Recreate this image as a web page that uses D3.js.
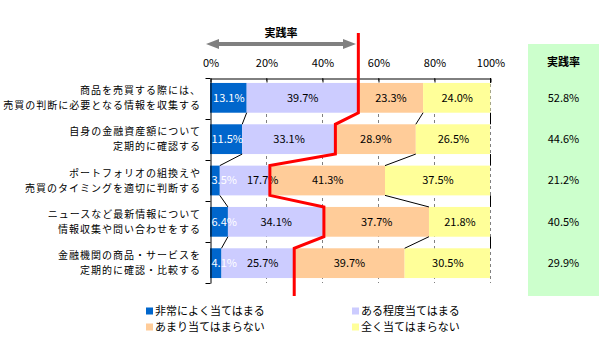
<!DOCTYPE html>
<html><head><meta charset="utf-8">
<script src="https://cdn.jsdelivr.net/npm/d3@7"></script>
<style>
html,body{margin:0;padding:0;background:#fff;}
svg{display:block;font-family:"Noto Sans CJK JP","Noto Sans",sans-serif;}
</style></head>
<body><svg id="c" width="600" height="340"></svg>
<script>
const categories = [
  ["商品を売買する際には、", "売買の判断に必要となる情報を収集する"],
  ["自身の金融資産額について", "定期的に確認する"],
  ["ポートフォリオの組換えや", "売買のタイミングを適切に判断する"],
  ["ニュースなど最新情報について", "情報収集や問い合わせをする"],
  ["金融機関の商品・サービスを", "定期的に確認・比較する"]
];
const seriesNames = ["非常によく当てはまる", "ある程度当てはまる", "あまり当てはまらない", "全く当てはまらない"];
const veryMuch   = [13.1, 11.5, 3.5, 6.4, 4.1];
const somewhat   = [39.7, 33.1, 17.7, 34.1, 25.7];
const notMuch    = [23.3, 28.9, 41.3, 37.7, 39.7];
const notAtAll   = [24.0, 26.5, 37.5, 21.8, 30.5];
const practiceRate = [52.8, 44.6, 21.2, 40.5, 29.9];
const xTicks = [0, 20, 40, 60, 80, 100];
const headerLabel = "実践率";

const colors = ["#0066CC", "#CCCCFF", "#FFCC99", "#FFFF99"];
const seriesVals = [veryMuch, somewhat, notMuch, notAtAll];
const rows = categories.map((c, i) => {
  const r = {i};
  seriesVals.forEach((s, k) => r["s" + k] = s[i]);
  return r;
});

const svg = d3.select("#c");
const x = d3.scaleLinear().domain([0, 100]).range([210.5, 490.5]);
const y = d3.scaleBand().domain(d3.range(categories.length)).range([78, 283]).paddingInner(0.28).paddingOuter(0.12);
const yL = d3.scaleLinear().domain([0, categories.length]).range([78, 283]);
const bw = y.bandwidth();
const FS = 11;

// green practice box
svg.append("rect").attr("x", 528).attr("y", 44).attr("width", 71).attr("height", 252).attr("fill", "#CCFFCC");
svg.append("text").attr("x", 563.5).attr("y", 62).attr("dy", "0.35em").attr("text-anchor", "middle")
  .attr("font-size", FS).attr("font-weight", "bold").text(headerLabel);
svg.selectAll(".pr").data(practiceRate).join("text")
  .attr("x", 563.5).attr("y", (d, i) => y(i) + bw / 2).attr("dy", "0.35em").attr("text-anchor", "middle")
  .attr("font-size", FS).attr("fill", "#000").text(d => d.toFixed(1) + "%");

// gridlines
svg.selectAll(".grid").data(xTicks.filter(t => t > 0)).join("line")
  .attr("x1", d => x(d)).attr("x2", d => x(d)).attr("y1", 78).attr("y2", 283)
  .attr("stroke", "#808080").attr("stroke-width", 1).attr("stroke-dasharray", "3,3");

// top axis
const ax = svg.append("g").attr("transform", "translate(0,78.5)")
  .call(d3.axisTop(x).tickValues(xTicks).tickFormat(d => d + "%").tickSizeInner(-4).tickSizeOuter(0).tickPadding(12));
ax.select(".domain").attr("stroke", "#000");
ax.selectAll(".tick line").attr("stroke", "#000");
ax.selectAll("text").attr("font-size", FS).attr("fill", "#000").attr("font-family", "'Noto Sans CJK JP','Noto Sans',sans-serif");

// right border solid segments (between bars)
const gaps = [[78, y(0)]];
for (let i = 0; i < categories.length - 1; i++) gaps.push([y(i) + bw, y(i + 1)]);
svg.selectAll(".rb").data(gaps).join("line")
  .attr("x1", x(100)).attr("x2", x(100)).attr("y1", d => d[0]).attr("y2", d => d[1])
  .attr("stroke", "#000").attr("stroke-width", 1);

// stacked bars
const stack = d3.stack().keys(seriesVals.map((s, k) => "s" + k));
const layers = stack(rows);
const g = svg.append("g");
layers.forEach((layer, k) => {
  g.selectAll(".b" + k).data(layer).join("rect")
    .attr("x", d => x(d[0]) - 0.5).attr("width", d => x(d[1]) - x(d[0]))
    .attr("y", (d, i) => y(i)).attr("height", bw).attr("fill", colors[k]);
});

// left axis
const al = svg.append("g").attr("transform", "translate(210.5,0)")
  .call(d3.axisLeft(yL).ticks(categories.length).tickFormat("").tickSizeInner(5).tickSizeOuter(0));
al.select(".domain").attr("stroke", "#000");
al.selectAll(".tick line").attr("stroke", "#000");

// series lines
for (let k = 0; k < 3; k++) {
  for (let i = 0; i < categories.length - 1; i++) {
    svg.append("line")
      .attr("x1", x(layers[k][i][1]) - 0.5).attr("y1", y(i) + bw)
      .attr("x2", x(layers[k][i + 1][1]) - 0.5).attr("y2", y(i + 1))
      .attr("stroke", "#000").attr("stroke-width", 1);
  }
}

// value labels
const labelG = svg.append("g");
categories.forEach((c, i) => {
  let prevRight = x(0);
  layers.forEach((layer, k) => {
    const d = layer[i];
    const t = labelG.append("text")
      .attr("x", (x(d[0]) + x(d[1])) / 2).attr("y", y(i) + bw / 2).attr("dy", "0.35em")
      .attr("text-anchor", "middle").attr("font-size", FS)
      .attr("fill", k === 0 ? "#fff" : "#000").text(d.data["s" + k].toFixed(1) + "%");
    const bb = t.node().getBBox();
    let left = bb.x;
    const minLeft = k === 0 ? x(0) + 1 : prevRight + 10;
    if (left < minLeft) {
      t.attr("x", +t.attr("x") + (minLeft - left));
      left = minLeft;
    }
    prevRight = left + bb.width;
  });
});

// practice rate red line
const pts = [[x(practiceRate[0]), 33]];
practiceRate.forEach((p, i) => {
  pts.push([x(p), y(i)]);
  pts.push([x(p), y(i) + bw]);
});
pts.shift();
pts.unshift([x(practiceRate[0]), 33]);
pts.push([x(practiceRate[practiceRate.length - 1]), 296]);
svg.append("path").attr("d", d3.line()(pts)).attr("fill", "none")
  .attr("stroke", "#FF0000").attr("stroke-width", 3).attr("stroke-linejoin", "miter");

// category labels (two lines, each its own text element)
categories.forEach((c, i) => {
  const cy = y(i) + bw / 2;
  [[c[0], cy - 7.5], [c[1], cy + 7.5]].forEach(([s, ly]) => {
    svg.append("text").attr("text-anchor", "end").attr("font-size", 10).attr("letter-spacing", "1px")
      .attr("x", 201).attr("y", ly).attr("dy", "0.35em").attr("fill", "#000").text(s);
  });
});

// header arrow
const ag = svg.append("g").attr("fill", "#808080");
ag.append("rect").attr("x", 216).attr("y", 42).attr("width", 130).attr("height", 4);
ag.append("path").attr("d", d3.line()([[206, 44], [219, 39], [219, 49]]));
ag.append("path").attr("d", d3.line()([[356, 44], [343, 39], [343, 49]]));
svg.append("text").attr("x", 281).attr("y", 33).attr("dy", "0.35em").attr("text-anchor", "middle")
  .attr("font-size", FS).attr("font-weight", "bold").text(headerLabel);

// legend
const legPos = [[146, 311], [352, 311], [146, 327], [352, 327]];
seriesNames.forEach((n, k) => {
  const [lx, ly] = legPos[k];
  svg.append("rect").attr("x", lx).attr("y", ly - 3.5).attr("width", 7).attr("height", 7).attr("fill", colors[k]);
  svg.append("text").attr("x", lx + 9).attr("y", ly).attr("dy", "0.35em").attr("font-size", FS).text(n);
});
</script></body></html>
